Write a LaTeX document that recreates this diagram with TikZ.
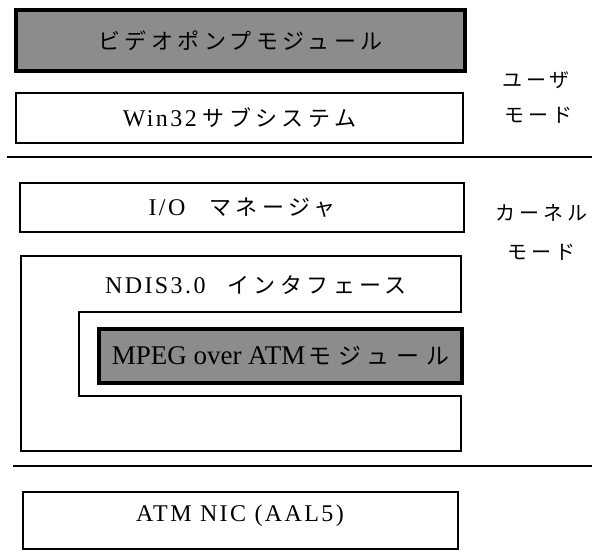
\documentclass[tikz,border=0pt]{standalone}
\usepackage{fontspec}
\setmainfont{Liberation Serif}
\newfontfamily\latsp[LetterSpace=10]{Liberation Serif}
\newfontfamily\jp[LetterSpace=20]{Noto Sans CJK JP}
\newfontfamily\jpw[LetterSpace=30]{Noto Sans CJK JP}
\begin{document}
\begin{tikzpicture}[x=1pt,y=-1pt,
  box/.style={draw, line width=2.2pt, inner sep=0pt},
  shaded/.style={draw, line width=3.8pt, inner sep=0pt, fill=black!45},
  sep/.style={line width=2.6pt},
  txt/.style={inner sep=0pt, font=\latsp\fontsize{24}{24}\selectfont},
  side/.style={inner sep=0pt, font=\jp\fontsize{20}{20}\selectfont}]
\useasboundingbox (0,0) rectangle (593,550);

% user mode
\node[shaded, minimum width=449pt, minimum height=61pt,
      font=\jp\fontsize{22}{22}\selectfont] (vp) at (240.5,40.5) {ビデオポンプモジュール};
\node[box, minimum width=447pt, minimum height=50pt, txt] (win) at (239.5,118)
  {Win32\hspace{6pt}{\jp\fontsize{22}{22}\selectfont サブシステム}};

\node[side] (um1) at (536,80) {ユーザ};
\node[side] (um2) at (538,115) {モード};

% separator 1
\coordinate (s1a) at (7,157);
\coordinate (s1b) at (592,157);
\draw[sep] (s1a) -- (s1b);

% kernel mode
\node[box, minimum width=444pt, minimum height=49pt, txt] (io) at (242,207.5)
  {I/O\hspace{24pt}{\jp\fontsize{22}{22}\selectfont マネージャ}};

\node[side] (km1) at (541,213) {カーネル};
\node[side] (km2) at (541,252) {モード};

\coordinate (n1) at (21,256);
\coordinate (n2) at (461,256);
\coordinate (n3) at (461,312);
\coordinate (n4) at (79,312);
\coordinate (n5) at (79,396);
\coordinate (n6) at (461,396);
\coordinate (n7) at (461,451);
\coordinate (n8) at (21,451);
\draw[line width=2.2pt] (n1) -- (n2) -- (n3) -- (n4) -- (n5) -- (n6) -- (n7) -- (n8) -- cycle;
\node[txt] (ndis) at (256,285)
  {NDIS3.0\hspace{22pt}{\jp\fontsize{22}{22}\selectfont インタフェース}};

\node[shaded, minimum width=363pt, minimum height=54pt,
      font=\fontsize{27}{27}\selectfont] (mpeg) at (280.5,356)
  {MPEG over ATM\hspace{3pt}{\jpw\fontsize{23}{23}\selectfont モジュール}};

% separator 2
\coordinate (s2a) at (13,466);
\coordinate (s2b) at (592,466);
\draw[sep] (s2a) -- (s2b);

% hardware
\node[box, minimum width=435pt, minimum height=57pt] (atm) at (240.5,520.5) {};
\node[txt] (atmt) at (240,516) {ATM NIC (AAL5)};
\end{tikzpicture}
\end{document}
